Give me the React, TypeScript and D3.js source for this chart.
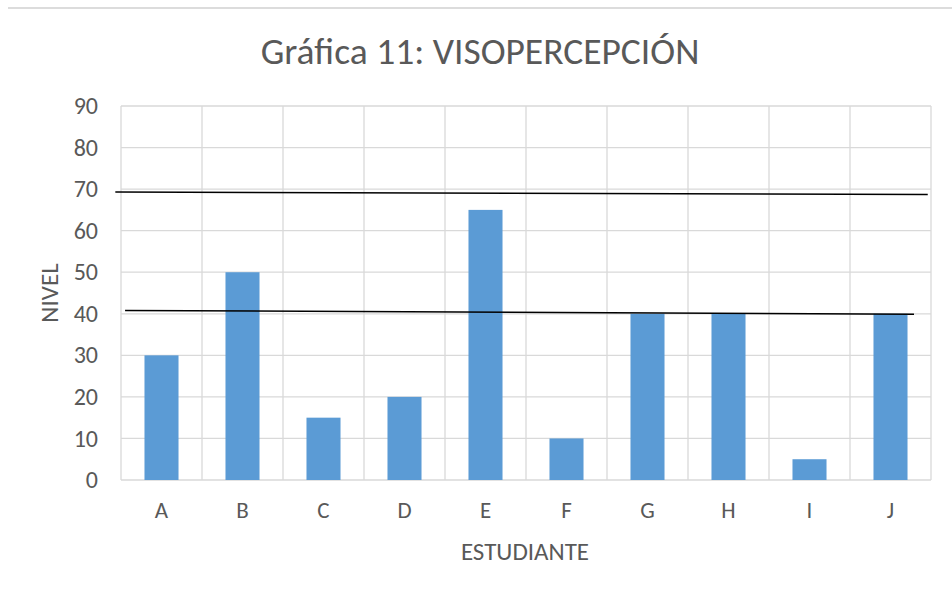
import React from 'react';
import * as d3 from 'd3';

const students = ['A', 'B', 'C', 'D', 'E', 'F', 'G', 'H', 'I', 'J'];
const nivel = [30, 50, 15, 20, 65, 10, 40, 40, 5, 40];
const yTicks = [0, 10, 20, 30, 40, 50, 60, 70, 80, 90];
// hand drawn reference lines, x in category units (0 = left edge, 10 = right edge)
const refLines = [
  { x0: -0.07, x1: 9.96, y0: 69.3, y1: 68.7 },
  { x0: 0.05, x1: 9.79, y0: 40.8, y1: 39.9 },
];

const W = 952;
const H = 595;
const margin = { top: 106, right: 21, bottom: 115, left: 121 };
const innerW = W - margin.left - margin.right;
const innerH = H - margin.top - margin.bottom;
const font = "Calibri, Carlito, 'Liberation Sans Narrow', 'Open Sans', sans-serif";
const textColor = '#595959';
const gridColor = '#d9d9d9';

const App: React.FC = () => {
  const x = d3.scaleBand<string>()
    .domain(students)
    .range([0, innerW])
    .paddingInner(0.58)
    .paddingOuter(0.29);

  const xLin = d3.scaleLinear().domain([0, students.length]).range([0, innerW]);

  const y = d3.scaleLinear()
    .domain([0, 90])
    .range([innerH, 0]);

  return (
    <svg width={W} height={H} style={{ position: 'absolute', left: 0, top: 0, background: '#fff' }}>
      <line x1={8} x2={W} y1={8} y2={8} stroke="#dcdcdc" strokeWidth={2} />
      <text x={480} y={64} textAnchor="middle" fontFamily={font} fontSize={37.5} fill={textColor}>
        Gráfica 11: VISOPERCEPCIÓN
      </text>
      <g transform={`translate(${margin.left},${margin.top})`}>
        {/* horizontal grid */}
        {yTicks.map(t => (
          <line key={'h' + t} x1={0} x2={innerW} y1={y(t)} y2={y(t)} stroke={gridColor} strokeWidth={1.3} />
        ))}
        {/* vertical grid */}
        {d3.range(students.length + 1).map(i => (
          <line key={'v' + i} x1={xLin(i)} x2={xLin(i)} y1={0} y2={innerH} stroke={gridColor} strokeWidth={1.3} />
        ))}
        {students.map((s, i) => (
          <rect
            key={s}
            x={x(s)}
            y={y(nivel[i])}
            width={x.bandwidth()}
            height={innerH - y(nivel[i])}
            fill="#5b9bd5"
          />
        ))}
        {yTicks.map(t => (
          <text key={'yt' + t} x={-23} y={y(t)} dy="0.34em" textAnchor="end" fontFamily={font} fontSize={24} fill={textColor}>
            {t}
          </text>
        ))}
        {students.map(s => (
          <text key={'xt' + s} x={(x(s) || 0) + x.bandwidth() / 2} y={innerH + 38} textAnchor="middle" fontFamily={font} fontSize={23} fill={textColor}>
            {s}
          </text>
        ))}
        {refLines.map((l, i) => (
          <line key={'r' + i} x1={xLin(l.x0)} x2={xLin(l.x1)} y1={y(l.y0)} y2={y(l.y1)} stroke="#000" strokeWidth={1.6} />
        ))}
        <text x={404} y={innerH + 80} textAnchor="middle" fontFamily={font} fontSize={25} fill={textColor}>
          ESTUDIANTE
        </text>
        <text transform={`translate(${-63},${innerH / 2}) rotate(-90)`} textAnchor="middle" fontFamily={font} fontSize={25} fill={textColor}>
          NIVEL
        </text>
      </g>
    </svg>
  );
};

export default App;
